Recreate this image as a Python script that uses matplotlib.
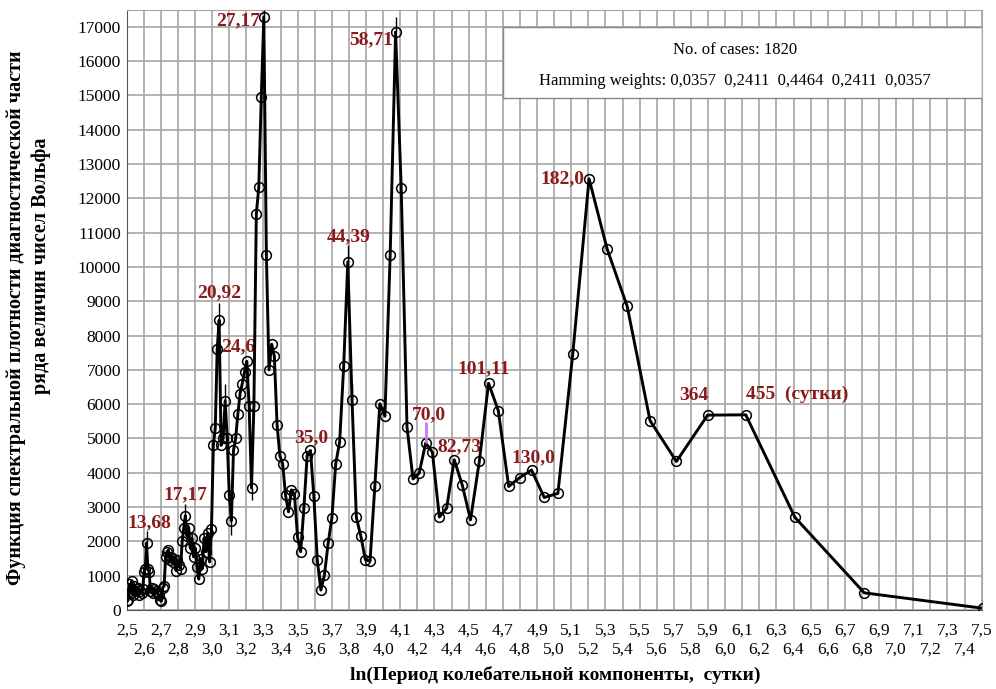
import numpy as np
import matplotlib.pyplot as plt
from matplotlib.ticker import FuncFormatter

plt.rcParams['font.family'] = ['Liberation Serif', 'DejaVu Serif']

N_CASES = 1820
# номер гармоники k -> период N/k (сутки)
harm = np.arange(1, 150)
dens = [
    50, 500, 2700, 5690, 5680, 4330, 5520, 8850, 10530, 12570,
    7460, 3400, 3280, 4080, 3860, 3600, 5810, 6610, 4330, 2630,
    3650, 4380, 2970, 2710, 4600, 4870, 3990, 3820, 5330, 12300,
    16850, 10340, 5650, 6010, 3610, 1420, 1470, 2160, 2700, 6130,
    10150, 7100, 4900, 4260, 2680, 1940, 1020, 580, 1450, 3310,
    4650, 4500, 2970, 1700, 2120, 3370, 3500, 2860, 3340, 4260,
    4500, 5400, 7400, 7750, 7000, 10350, 17280, 14950, 12320, 11550,
    5950, 3550, 5950, 7250, 6950, 6600, 6300, 5700, 5000, 4650,
    2600, 3350, 5000, 6100, 5000, 4800, 8450, 7600, 5300, 4800,
    2350, 1400, 2250, 1700, 2100, 1200, 1500, 900, 1250, 1800,
    1550, 2100, 1800, 2400, 2150, 2750, 2400, 2000, 1200, 1300,
    1450, 1150, 1500, 1400, 1550, 1450, 1750, 1700, 1550, 700,
    650, 250, 300, 450, 500, 550, 600, 500, 650, 550,
    1100, 1200, 1950, 1200, 1100, 600, 500, 550, 450, 650,
    600, 550, 700, 450, 850, 500, 750, 300, 250,
]
# тонкие "усы" над отдельными точками: гармоника и верхний конец
spike_k = [31, 67, 87, 41, 133, 106, 72, 81, 84, 40]
spike_top = [17300, 17500, 8950, 10650, 2300, 3100, 3200, 2200, 6600, 6600]
# подписи пиков: (гармоника, текст)
peak_k = [133, 106, 87, 74, 67, 52, 41, 31, 26, 22, 18, 14, 10, 5, 4]
peak_txt = ['13,68', '17,17', '20,92', '24,6', '27,17', '35,0', '44,39', '58,71',
            '70,0', '82,73', '101,11', '130,0', '182,0', '364', '455  (сутки)']
hamming = ['0,0357', '0,2411', '0,4464', '0,2411', '0,0357']

#%%
x = np.log(N_CASES / harm)
y = np.array(dens)
idx = {k: i for i, k in enumerate(harm)}

fig = plt.figure(figsize=(9.96, 6.89), dpi=100)
ax = fig.add_axes([0.1272, 0.1147, 0.9856 - 0.1272, 0.9859 - 0.1147])

ax.plot(x, y, color='black', lw=2.1, marker='o', ms=7, mfc='none', mec='black', mew=1.1,
        zorder=3)
sx = [x[idx[k]] for k in spike_k]
sy = [y[idx[k]] for k in spike_k]
ax.vlines(sx, sy, spike_top, color='black', lw=1.0, zorder=3)

# фиолетовая метка у 70,0
ax.vlines(x[idx[26]], y[idx[26]], y[idx[26]] + 600, color='#c37cf0', lw=2, zorder=4)

red = '#8b1a1a'
# смещения подписей в пикселях (dx, dy, ha)
offs = [(3, 20, 'center'), (0, 21, 'center'), (0, 27, 'center'), (-9, 15, 'center'),
        (-4, -3, 'right'), (4, 18, 'center'), (1, 25, 'center'), (-3, -8, 'right'),
        (3, 28, 'center'), (5, 13, 'center'), (-5, 15, 'center'), (2, 12, 'center'),
        (-5, 0, 'right'), (-14, 20, 'center'), (0, 20, 'left')]
for k, t, (dx, dy, ha) in zip(peak_k, peak_txt, offs):
    j = idx[k]
    ax.annotate(t, (x[j], y[j]), xytext=(dx, dy), textcoords='offset pixels',
                ha=ha, va='center', fontsize=14, fontweight='bold', color=red, zorder=2.5)

ax.set_xlim(2.5, 7.5)
ax.set_ylim(0, 17500)
# нечетные десятые - верхний ряд, четные - нижний
ax.set_xticks(np.arange(2.5, 7.51, 0.2))
ax.set_xticks(np.arange(2.6, 7.41, 0.2), minor=True)
fmt = FuncFormatter(lambda v, p: ('%.1f' % v).replace('.', ','))
ax.xaxis.set_major_formatter(fmt)
ax.xaxis.set_minor_formatter(fmt)
ax.set_yticks(np.arange(0, 17001, 1000))
ax.tick_params(axis='x', which='major', length=0, pad=9, labelsize=12.5)
ax.tick_params(axis='x', which='minor', length=0, pad=23, labelsize=12.5)
ax.tick_params(axis='y', length=0, pad=4, labelsize=12.5)

ax.grid(True, which='both', color='#a6a6a6', lw=1.2)
ax.set_axisbelow(True)
for s in ['top', 'right']:
    ax.spines[s].set_color('#a6a6a6')
for s in ['left', 'bottom']:
    ax.spines[s].set_color('#555555')

fig.text(0.557, 1 - 675 / 689, 'ln(Период колебательной компоненты,  сутки)', fontsize=14,
         fontweight='bold', ha='center', va='center')
fig.text(0.016, 1 - 318 / 689, 'Функция спектральной плотности диагностической части',
         rotation=90, ha='center', va='center', fontsize=14.5, fontweight='bold')
fig.text(0.041, 1 - 266 / 689, 'ряда величин чисел Вольфа',
         rotation=90, ha='center', va='center', fontsize=14.5, fontweight='bold')

# информационная рамка
bx0 = (503 - 126.7) / 855.0
ax.add_patch(plt.Rectangle((bx0, 0.853), 1 - bx0, 0.9714 - 0.853, transform=ax.transAxes,
                           facecolor='white', edgecolor='#888888', lw=1, zorder=2))
ax.text(0.711, 0.9329, 'No. of cases: %d' % N_CASES, transform=ax.transAxes,
        ha='center', va='center', fontsize=12, zorder=6)
ax.text(0.711, 0.8817, 'Hamming weights: ' + '  '.join(hamming), transform=ax.transAxes,
        ha='center', va='center', fontsize=12, zorder=6)

fig.savefig('out.png', dpi=100)
